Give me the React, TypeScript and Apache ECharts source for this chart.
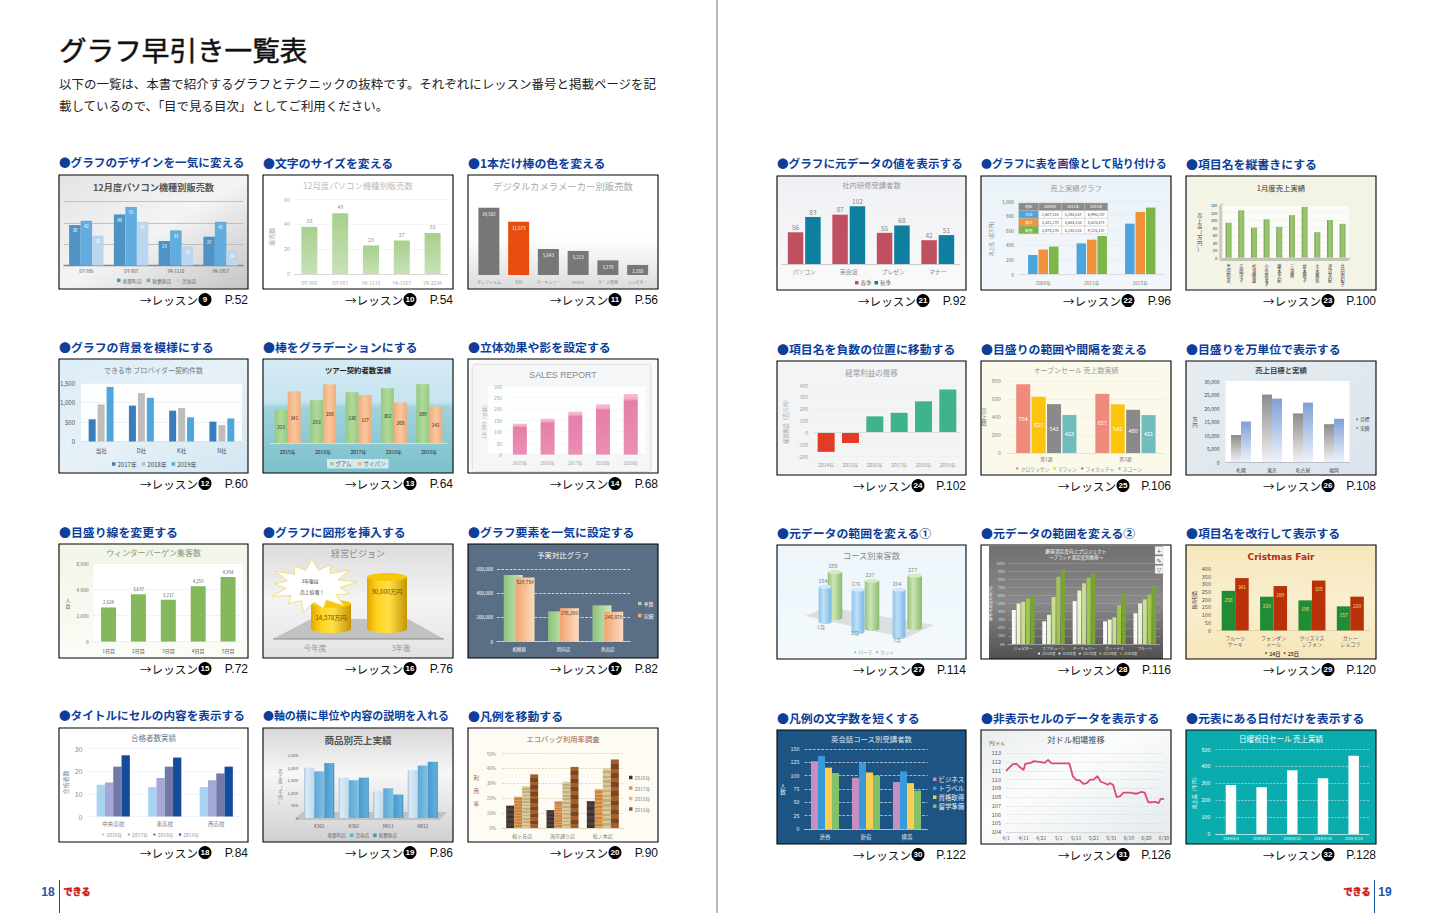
import React, { useEffect, useRef } from "react";
import * as echarts from "echarts";

const JP = '"Noto Sans CJK JP"';
const AR = '"Liberation Sans"';

/* ---------- page texts ---------- */
const pageTitle = "グラフ早引き一覧表";
const introLines = [
  "以下の一覧は、本書で紹介するグラフとテクニックの抜粋です。それぞれにレッスン番号と掲載ページを記",
  "載しているので、「目で見る目次」としてご利用ください。",
];
const headings = [
  "グラフのデザインを一気に変える", "文字のサイズを変える", "1本だけ棒の色を変える",
  "グラフの背景を模様にする", "棒をグラデーションにする", "立体効果や影を設定する",
  "目盛り線を変更する", "グラフに図形を挿入する", "グラフ要素を一気に設定する",
  "タイトルにセルの内容を表示する", "軸の横に単位や内容の説明を入れる", "凡例を移動する",
  "グラフに元データの値を表示する", "グラフに表を画像として貼り付ける", "項目名を縦書きにする",
  "項目名を負数の位置に移動する", "目盛りの範囲や間隔を変える", "目盛りを万単位で表示する",
  "元データの範囲を変える①", "元データの範囲を変える②", "項目名を改行して表示する",
  "凡例の文字数を短くする", "非表示セルのデータを表示する", "元表にある日付だけを表示する",
];
const lessonPages = [52, 54, 56, 60, 64, 68, 72, 76, 82, 84, 86, 90, 92, 96, 100, 102, 106, 108, 114, 116, 120, 122, 126, 128];

/* ---------- chart data ---------- */
const pcCats = ["DT-986", "DT-987", "YK-1110", "YK-1957"];
const p09Ena = [38, 48, 23, 27];
const p09Aki = [42, 55, 33, 41];
const p09Shi = [28, 41, 18, 14];

const p10Cats = ["DT-986", "DT-987", "YK-1110", "YK-1957", "YK-2234"];
const p10Sales = [38, 49, 23, 27, 33];

const p11Cats = ["サンフィルム", "当社", "マーキュリー", "VENUS", "サース電機", "ジュピター"];
const p11Sales = [14582, 11573, 5643, 5213, 3178, 2180];

const p12Cats = ["当社", "D社", "K社", "N社"];
const p12Y2017 = [570, 920, 790, 510];
const p12Y2018 = [950, 1240, 860, 420];
const p12Y2019 = [1400, 1120, 620, 590];

const yearCats = ["2015年", "2016年", "2017年", "2018年", "2019年"];
const p13Guam = [221, 283, 336, 362, 389];
const p13Saipan = [341, 388, 317, 268, 241];
const p14Sales = [135, 157, 188, 220, 265];

const p15Cats = ["1日目", "2日目", "3日目", "4日目", "5日目"];
const p15Visitors = [2624, 3637, 3217, 4255, 4954];

const p16Cats = ["今年度", "3年後"];
const p16Sales = [14578, 30000];

const p17Cats = ["相模原", "別府店", "外出店"];
const p17Budget = [550000, 250000, 300000];
const p17Actual = [529754, 276200, 246870];

const p18Cats = ["中央高校", "東高校", "西高校"];
const p18Y2016 = [14, 13, 13];
const p18Y2017 = [15, 17, 16];
const p18Y2018 = [22, 22, 19];
const p18Y2019 = [27, 26, 22];

const p19Cats = ["K301", "K302", "M011", "M012"];
const p19Ena = [2000, 1600, 1050, 1900];
const p19Shi = [1850, 1500, 1180, 2080];
const p19Aki = [2180, 1600, 930, 2230];

const p20Cats = ["桜ヶ丘店", "海岸通り店", "松ノ木店"];
const p20Y2016 = [15, 12, 18];
const p20Y2017 = [21, 18, 26];
const p20Y2018 = [28, 31, 40];
const p20Y2019 = [36, 41, 46];

const p21Cats = ["パソコン", "英会話", "プレゼン", "マナー"];
const p21Spring = [56, 87, 55, 42];
const p21Autumn = [83, 102, 68, 51];

const p22Cats = ["2008年", "2011年", "2015年"];
const p22Shibuya = [260, 420, 690];
const p22Yokohama = [335, 470, 850];
const p22Shinjuku = [375, 520, 910];
const p22Table = [
  ["地区", "2008年", "2011年", "2015年"],
  ["渋谷", "2,607,318", "4,285,147", "6,996,247"],
  ["横浜", "3,341,278", "4,685,134", "8,626,471"],
  ["新宿", "3,874,176", "5,240,126", "9,226,147"],
];

const p23Cats = ["真田和美", "吉岡洋子", "杉浦敏雄", "小笠原孝子", "藤本幸紀", "三浦敦", "倉本勝子", "大木雅和", "渡辺美紀", "井田由紀子"];
const p23Sales = [93, 126, 80, 102, 82, 113, 135, 68, 100, 90];

const p24Cats = ["2014年", "2015年", "2016年", "2017年", "2018年", "2019年"];
const p24Profit = [-165, -90, 135, 165, 262, 362];

const p25Cats = ["第1週", "第2週"];
const p25Croissant = [764, 657];
const p25Muffin = [625, 541];
const p25Focaccia = [543, 480];
const p25Scone = [423, 421];

const p26Cats = ["札幌", "東京", "名古屋", "福岡"];
const p26Target = [10000, 25000, 18000, 14000];
const p26Actual = [15000, 23500, 22000, 16000];

const p27Cats = ["1月", "2月", "3月"];
const p27Perm = [184, 176, 204];
const p27Cut = [288, 237, 277];

const p28Cats = ["ジュピター", "ネプチューン", "マーキュリー", "ヴィーナス", "プルート"];
const p28Y2015 = [42, 28, 53, 28, 38];
const p28Y2016 = [50, 36, 66, 30, 50];
const p28Y2017 = [52, 58, 75, 33, 55];
const p28Y2018 = [56, 83, 82, 48, 61];
const p28Y2019 = [60, 92, 87, 62, 72];

const p29Cats = ["フルーツ\nケーキ", "フォンダン\nメール", "クリスマス\nシフォン", "ガトー\nショコラ"];
const p29Day24 = [258, 220, 196, 157];
const p29Day25 = [341, 289, 325, 220];

const p30Cats = ["渋谷", "新宿", "横浜"];
const p30Business = [127, 96, 88];
const p30Travel = [137, 124, 108];
const p30License = [115, 106, 86];
const p30Study = [105, 100, 72];

const fxTickLabels = ["4/1", "4/11", "4/21", "5/1", "5/11", "5/21", "5/31", "6/10", "6/20", "6/30"];
const fxDays = [0, 2, 4, 6, 8, 10, 11, 14, 16, 18, 20, 22, 24, 26, 30, 34, 36, 37, 38, 40, 42, 44, 46, 48, 50, 52, 54, 56, 58, 59, 61, 63, 65, 67, 69, 71, 73, 75, 77, 79, 81, 83, 85, 87, 88, 90];
const fxRates = [111.0, 111.4, 111.75, 111.8, 111.4, 111.1, 111.8, 111.9, 112.1, 112.05, 112.0, 111.9, 112.25, 111.85, 111.85, 111.85, 111.85, 111.2, 110.4, 109.95, 109.9, 109.5, 109.6, 110.0, 110.0, 110.4, 109.75, 109.6, 109.4, 109.6, 109.4, 108.0, 108.1, 108.5, 108.5, 108.5, 108.4, 108.4, 108.6, 108.5, 107.4, 107.4, 107.45, 107.3, 107.75, 107.8];

const p32Cats = ["2019/8/4", "2019/8/11", "2019/8/12", "2019/8/18", "2019/8/25"];
const p32Sales = [290, 277, 377, 330, 463];

/* ---------- layout ---------- */
const COLS = [59, 263, 468, 777, 981, 1186];
const ROWS_L = [175, 359, 544, 728];
const ROWS_R = [176, 361, 545, 730];
const boxOf = (n: number) => {
  const page = n < 12 ? 0 : 1;
  const i = page ? n - 12 : n;
  const c = i % 3, r = Math.floor(i / 3);
  return { x: COLS[page * 3 + c], y: (page ? ROWS_R : ROWS_L)[r], w: c === 0 ? 189 : 190, h: 114 };
};

const grids: any[] = [], xAxes: any[] = [], yAxes: any[] = [], series: any[] = [], legends: any[] = [], gfx: any[] = [];

const LG = (x0: number, y0: number, x1: number, y1: number, c: any[]) =>
  new echarts.graphic.LinearGradient(x0, y0, x1, y1, c.map((s: any) => ({ offset: s[0], color: s[1] })));
const V = (...c: any[]) => LG(0, 0, 0, 1, c);
const H = (...c: any[]) => LG(0, 0, 1, 0, c);

const txt = (x: number, y: number, text: string, o: any = {}) => {
  const { z = 10, rotation, ...st } = o;
  gfx.push({
    type: "text", x, y, z, rotation, silent: true,
    style: { text, fontFamily: JP, fontSize: 8, fill: "#333", align: "center", verticalAlign: "middle", ...st },
  });
};
const rect = (x: number, y: number, w: number, h: number, fill: any, o: any = {}) => {
  const { z = -2, ...st } = o;
  gfx.push({ type: "rect", z, silent: true, shape: { x, y, width: w, height: h }, style: { fill, ...st } });
};
const poly = (pts: number[][], fill: any, o: any = {}) => {
  const { z = -1, ...st } = o;
  gfx.push({ type: "polygon", z, silent: true, shape: { points: pts }, style: { fill, ...st } });
};

function mkLegend(items: [string, string][], left: number, top: number, o: any = {}) {
  const { size = 5, color = "#666", orient = "horizontal", gap = 4, icon = "rect", mark = 3.5, bg, weight } = o;
  legends.push({
    data: items.map(([name, c]) => ({ name, icon, itemStyle: { color: c, borderWidth: 0 } })),
    left, top, orient, itemGap: gap, itemWidth: mark, itemHeight: mark, padding: bg ? [2, 3] : 0,
    backgroundColor: bg || "transparent", selectedMode: false,
    textStyle: { fontSize: size, color, fontFamily: JP, fontWeight: weight || "normal", padding: [0, 0, 0, -3] },
  });
}

function panel(n: number, bg: any, title: string, tY: number, tSize: number, tColor: string, o: any = {}) {
  const b = boxOf(n);
  rect(b.x, b.y, b.w, b.h, bg, { z: -3 });
  rect(b.x, b.y, b.w, b.h, "none", { z: 9, stroke: "#000", lineWidth: 1.1 });
  if (title) txt(b.x + b.w / 2 + (o.tdx || 0), tY, title, { fontSize: tSize, fill: tColor, fontWeight: o.tWeight || "normal", fontFamily: o.tFont || JP, fontStyle: o.tStyle || "normal" });
}

type S = { name: string; data: number[]; color: any; lc?: string };
function bars(cfg: {
  plot: number[]; cats: string[]; ss: S[]; y: number[];
  bw: number; gap?: string; lab?: any; xs?: any; ys?: any; grid?: any; plotBg?: any; yName?: any; stack?: boolean; colorFn?: any; x?: any;
}) {
  const [l, t, r, b] = cfg.plot;
  const gi = grids.length;
  grids.push({ left: l, top: t, width: r - l, height: b - t, show: !!cfg.plotBg, backgroundColor: cfg.plotBg || "transparent", borderWidth: 0 });
  const xs = { size: 5, color: "#666", margin: 5, ...cfg.xs };
  xAxes.push({
    type: "category", gridIndex: gi, data: cfg.cats, axisTick: { show: false },
    axisLine: { show: xs.line !== false, lineStyle: { color: xs.lineColor || "#ccc", width: xs.lineWidth || 0.7 }, onZero: xs.onZero !== false },
    axisLabel: { show: xs.show !== false, interval: 0, fontSize: xs.size, color: xs.color, margin: xs.margin, fontFamily: JP, lineHeight: xs.lh, formatter: xs.fmt, hideOverlap: false },
    ...cfg.x,
  });
  const ys = { size: 5, color: "#777", margin: 4, grid: "#e5e5e5", gridType: "solid", gridWidth: 0.6, ...cfg.ys };
  const nm = cfg.yName;
  yAxes.push({
    type: "value", gridIndex: gi, min: cfg.y[0], max: cfg.y[1], interval: cfg.y[2],
    axisLine: { show: false }, axisTick: { show: false },
    axisLabel: { show: ys.show !== false, fontSize: ys.size, color: ys.color, margin: ys.margin, fontFamily: JP, formatter: ys.fmt, showMinLabel: true, showMaxLabel: true },
    splitLine: { show: ys.grid !== "none", lineStyle: { color: ys.grid, type: ys.gridType, width: ys.gridWidth } },
    ...(nm ? {
      name: nm.stack ? nm.text.split("").join("\n") : nm.text,
      nameLocation: "middle", nameGap: nm.gap, nameRotate: nm.stack ? 0 : 90,
      nameTextStyle: { fontSize: nm.size || 5.5, color: nm.color || "#777", fontFamily: JP, lineHeight: nm.lh || (nm.size || 5.5) + 0.6 },
    } : {}),
  });
  cfg.ss.forEach((s) => {
    const lab = cfg.lab;
    series.push({
      type: "bar", name: s.name, xAxisIndex: gi, yAxisIndex: gi, data: s.data, barWidth: cfg.bw, barGap: cfg.gap ?? "0%",
      itemStyle: { color: cfg.colorFn || s.color }, silent: true,
      label: lab ? {
        show: true, position: lab.pos || "top", fontSize: lab.size || 5, color: s.lc || lab.color || "#666", distance: lab.dist ?? 2, fontFamily: JP,
        formatter: (p: any) => (lab.comma ? Number(p.value).toLocaleString("en-US") : String(p.value)),
      } : { show: false },
    });
  });
  return gi;
}

/* custom cylinders, drawn through the grid's own scale; k is a perspective factor on the scaled height */
function cylinders(gi: number, name: string, data: number[], o: { dx: number[]; dy: number[]; k?: number[]; r: number; ry: number; fill: any; top: string; label?: any }) {
  series.push({
    type: "custom", name, xAxisIndex: gi, yAxisIndex: gi, silent: true, z: o.label?.z ?? 3,
    data: data.map((v, i) => [i, v]), encode: { x: 0, y: 1 },
    renderItem: (_p: any, api: any) => {
      const i = api.value(0), v = api.value(1);
      const b = api.coord([i, 0]), t = api.coord([i, v]);
      const cx = b[0] + o.dx[i], by = b[1] + o.dy[i], ty = by + (t[1] - b[1]) * (o.k ? o.k[i] : 1);
      const kids: any[] = [
        { type: "ellipse", shape: { cx, cy: by, rx: o.r, ry: o.ry }, style: { fill: o.fill } },
        { type: "rect", shape: { x: cx - o.r, y: ty, width: o.r * 2, height: by - ty }, style: { fill: o.fill } },
        { type: "ellipse", shape: { cx, cy: ty, rx: o.r, ry: o.ry }, style: { fill: o.top } },
      ];
      if (o.label) kids.push({
        type: "text", x: cx + (o.label.dx || 0), y: o.label.inside ? ty + o.label.inside : ty - o.ry - 4,
        style: { text: o.label.fmt ? o.label.fmt(v) : String(v), fontSize: o.label.size, fill: o.label.color, fontFamily: JP, align: "center", verticalAlign: "middle" },
      });
      return { type: "group", children: kids };
    },
  });
}

const stripes = (a: string, b: string, n: number) => {
  const c: any[] = [];
  for (let i = 0; i < n; i++) {
    c.push([i / n, i % 2 ? b : a], [(i + 1) / n, i % 2 ? b : a]);
  }
  return V(...c);
};
const comma = (v: number) => v.toLocaleString("en-US");

/* ---------- build panels ---------- */
function build() {
  // 9
  panel(0, LG(0, 0, 1, 1, [[0, "#e4e4e4"], [0.5, "#f4f4f4"], [1, "#c4c4c4"]]), "12月度パソコン機種別販売数", 187, 9.2, "#555", { tWeight: "bold" });
  bars({ plot: [64, 201.6, 243, 265.5], cats: pcCats, y: [0, 60, 20], bw: 11.5, lab: { pos: "insideTop", color: "#fff", size: 4.5, dist: 3 },
    ss: [{ name: "恵那町店", data: p09Ena, color: "#4f93c4" }, { name: "秋葉原店", data: p09Aki, color: "#62acdf" }, { name: "渋谷店", data: p09Shi, color: "#bcd7ed" }],
    ys: { show: false, grid: "#b5b5b5", gridWidth: 0.8 }, xs: { size: 4.5, color: "#555", lineColor: "#7a8a98", lineWidth: 1.4, margin: 3 } });
  mkLegend([["恵那町店", "#4f93c4"], ["秋葉原店", "#62acdf"], ["渋谷店", "#bcd7ed"]], 117, 278, { size: 4.8, gap: 5 });

  // 10
  panel(1, "#fff", "12月度パソコン機種別販売数", 185, 8.4, "#bbb");
  bars({ plot: [294, 199.6, 448, 274], cats: p10Cats, y: [0, 60, 20], bw: 16, lab: { color: "#999", size: 5.5, dist: 3 },
    ss: [{ name: "販売数", data: p10Sales, color: V([0, "#a7cf8d"], [1, "#c8e1b6"]) }],
    ys: { size: 5.5, color: "#aaa", grid: "#eee", margin: 4 }, xs: { size: 5, color: "#aaa", margin: 6 }, yName: { text: "販売数", gap: 19, color: "#aaa", size: 6 } });

  // 11
  panel(2, V([0, "#fff"], [0.55, "#fff"], [1, "#dcdcdc"]), "デジタルカメラメーカー別販売数", 186, 9.4, "#aaa");
  bars({ plot: [474, 192, 652.5, 275], cats: p11Cats, y: [0, 18000, 6000], bw: 21, lab: { pos: "insideTop", color: "#fff", size: 4.4, comma: true, dist: 4 },
    ss: [{ name: "販売数2", data: p11Sales, color: "#777" }], colorFn: (p: any) => (p.name === "当社" ? "#e84c0e" : "#777"),
    ys: { show: false, grid: "none" }, xs: { size: 4, color: "#888", line: false, margin: 5 } });

  // 12
  panel(3, LG(0, 0, 1, 1, [[0, "#dcedf7"], [0.5, "#e7f1f7"], [1, "#d3e6f3"]]), "できる市 プロバイダー契約件数", 370, 7, "#777");
  bars({ plot: [81, 383, 242, 441.5], cats: p12Cats, y: [0, 1500, 500], bw: 7, gap: "28%", plotBg: "#fdfeff",
    ss: [{ name: "2017年", data: p12Y2017, color: "#3a7dbd" }, { name: "2018年", data: p12Y2018, color: "#bdbdbd" }, { name: "2019年", data: p12Y2019, color: "#4da6dc" }],
    ys: { size: 6, color: "#555", grid: "#e5e5e5", margin: 6 }, xs: { size: 5.5, color: "#555", margin: 7, lineColor: "#ddd" } });
  mkLegend([["2017年", "#3a7dbd"], ["2018年", "#bdbdbd"], ["2019年", "#4da6dc"]], 112, 461, { size: 6, gap: 5, color: "#444" });

  // 13
  panel(4, V([0, "#d7ebf5"], [0.38, "#c4e4ef"], [0.42, "#a0d3dc"], [1, "#7bc0cb"]), "ツアー契約者数実績", 369.5, 7.4, "#222", { tWeight: "bold" });
  bars({ plot: [270, 384, 447, 443], cats: yearCats, y: [0, 390, 130], bw: 13, lab: { pos: "inside", color: "#222", size: 4.8 },
    ss: [{ name: "グアム", data: p13Guam, color: H([0, "#96c883"], [0.5, "#b1d999"], [1, "#96c883"]) }, { name: "サイパン", data: p13Saipan, color: H([0, "#f4ab79"], [0.5, "#f8c79f"], [1, "#f4ab79"]) }],
    ys: { show: false, grid: "none" }, xs: { size: 5, color: "#222", margin: 6, lineColor: "#d8eef2" } });
  mkLegend([["グアム", "#a2cf8a"], ["サイパン", "#f4b183"]], 327, 459, { size: 5.5, gap: 6, bg: "rgba(255,255,255,0.65)", color: "#666" });

  // 14
  panel(5, "#fbfbfb", "SALES REPORT", 374.5, 8.8, "#888", { tFont: AR });
  rect(473, 365, 177, 106, "#f4f6f7", { z: -2, shadowBlur: 3, shadowColor: "rgba(0,0,0,0.25)" });
  rect(488, 386, 158, 68, "#fdfefe", { z: -1 });
  bars({ plot: [506, 386, 644.6, 454.6], cats: yearCats, y: [0, 300, 50], bw: 14,
    ss: [{ name: "販売数3", data: p14Sales, color: V([0, "#f5bcd2"], [0.07, "#f3b0ca"], [0.12, "#e67fa8"], [1, "#ea8fb3"]) }],
    ys: { size: 4.8, color: "#999", grid: "#f2f2f2" }, xs: { size: 4.5, color: "#999", margin: 6, line: false }, yName: { text: "CB-090（台数）", gap: 20, size: 5, color: "#aaa" } });

  // 15
  panel(6, V([0, "#f1f6e8"], [1, "#fbfcf6"]), "ウィンターバーゲン集客数", 552, 7.9, "#8a9378");
  bars({ plot: [93.6, 563.5, 243, 641.6], cats: p15Cats, y: [0, 6000, 2000], bw: 15, plotBg: "#fff", lab: { color: "#555", size: 4.4, comma: true, dist: 3 },
    ss: [{ name: "集客数", data: p15Visitors, color: "#84b85c" }],
    ys: { size: 4.8, color: "#666", grid: "#d8e5c8", gridType: "dashed", margin: 5 }, xs: { size: 5, color: "#555", margin: 6, line: false }, yName: { text: "人数", stack: true, gap: 23, size: 5 } });

  // 16
  panel(7, LG(0.5, 0, 0.5, 1, [[0, "#dcdcdc"], [0.5, "#f4f4f4"], [1, "#e2e2e2"]]), "経営ビジョン", 553, 9, "#888");
  poly([[311, 619], [408, 619], [444, 639], [273, 639]], "#c2c2c2");
  gfx.push({ type: "line", z: -1, silent: true, shape: { x1: 273, y1: 639, x2: 444, y2: 639 }, style: { stroke: "#777", lineWidth: 0.8 } });
  const g16 = bars({ plot: [272, 577, 444, 629], cats: p16Cats, y: [0, 30000, 10000], bw: 1, ss: [],
    ys: { show: false, grid: "none" }, xs: { size: 7.5, color: "#999", margin: 15, line: false } });
  cylinders(g16, "売上", p16Sales, {
    dx: [16, -14], dy: [0, 0], r: 20, ry: 4,
    fill: H([0, "#e2a800"], [0.25, "#ffd21f"], [0.55, "#ffe04a"], [1, "#c79400"]), top: "#f7c70a",
    label: { inside: 14, size: 6.2, color: "#6a4a00", fmt: (v: number) => `${comma(v)}万円` },
  });
  const star: number[][] = [];
  const spikes = 13;
  for (let i = 0; i < spikes * 2; i++) {
    const a = (Math.PI * i) / spikes - 0.15, k = i % 2 ? 0.6 : i % 4 === 0 ? 1 : 0.86;
    star.push([313 + 45 * k * Math.cos(a), 586 + 27 * k * Math.sin(a)]);
  }
  poly(star, "#fff", { z: 5, stroke: "#f5dd77", lineWidth: 1 });
  txt(310, 580, "3年後は", { fontSize: 4.8, fill: "#333" });
  txt(312, 591, "売上倍増！", { fontSize: 4.8, fill: "#333" });

  // 17
  panel(8, "#5a6e85", "予実対比グラフ", 554, 7.4, "#fff");
  bars({ plot: [497, 569, 630, 641.6], cats: p17Cats, y: [0, 600000, 200000], bw: 19, gap: "-38%",
    ss: [{ name: "予算", data: p17Budget, color: H([0, "#8cc27a"], [1, "#d0e8c0"]) }, { name: "実績", data: p17Actual, color: H([0, "#f2a56e"], [1, "#fbdcc2"]) }],
    ys: { size: 4.6, color: "#fff", grid: "#fff", gridType: "dashed", gridWidth: 0.7, margin: 4 }, xs: { size: 4.5, color: "#fff", margin: 5, lineColor: "#cfd8e2" } });
  series[series.length - 1].label = { show: true, position: "insideTop", fontSize: 4.8, color: "#333", distance: 2, fontFamily: JP, formatter: (p: any) => comma(p.value) };
  mkLegend([["予算", "#a8d896"], ["実績", "#f4b183"]], 638, 601, { size: 5, orient: "vertical", gap: 7, color: "#fff" });

  // 18
  panel(9, "#fff", "合格者数実績", 737.5, 7.5, "#6b7a8a");
  bars({ plot: [87.5, 748.5, 242, 816.5], cats: p18Cats, y: [0, 30, 10], bw: 8.3,
    ss: [{ name: "2016年", data: p18Y2016, color: "#a8d3f0" }, { name: "2017年", data: p18Y2017, color: "#a3a9d6" }, { name: "2018年", data: p18Y2018, color: "#7378a8" }, { name: "2019年", data: p18Y2019, color: "#154b9c" }],
    ys: { size: 7, color: "#889", grid: "#e7eef5", margin: 5 }, xs: { size: 5.5, color: "#778", margin: 5, line: false }, yName: { text: "合格者数", gap: 19, size: 6, color: "#7a8a9a" } });
  mkLegend([["2016年", "#a8d3f0"], ["2017年", "#a3a9d6"], ["2018年", "#7378a8"], ["2019年", "#154b9c"]], 102, 832, { size: 5, gap: 5, icon: "circle", mark: 2.5, color: "#999" });

  // 19
  panel(10, LG(0.5, 0, 0.5, 1, [[0, "#d8d8d8"], [0.4, "#f7f7f7"], [1, "#cfcfcf"]]), "商品別売上実績", 740, 9.6, "#555", { tWeight: "bold" });
  poly([[302, 812], [447, 812], [440, 820], [295, 820]], "#bfc3c6");
  bars({ plot: [302, 755, 440, 818], cats: p19Cats, y: [0, 2500, 500], bw: 10,
    ss: [{ name: "恵那町店", data: p19Ena, color: H([0, "#9ec0da"], [0.2, "#dcebf6"], [1, "#bed9ee"]) }, { name: "渋谷店", data: p19Shi, color: H([0, "#5fa7d4"], [1, "#7fc0e6"]) }, { name: "秋葉原店", data: p19Aki, color: H([0, "#4a98c9"], [0.85, "#5fb0e0"], [1, "#3e7da8"]) }],
    ys: { size: 4.2, color: "#555", grid: "none", margin: 4 }, xs: { size: 4.5, color: "#555", margin: 6, line: false }, yName: { text: "売上高（千円）", stack: true, gap: 15, size: 4.6 } });
  mkLegend([["恵那町店", "#c5def0"], ["渋谷店", "#62acdc"], ["秋葉原店", "#4694c6"]], 322, 833, { size: 4.6, gap: 4 });

  // 20
  panel(11, "#fdfbf3", "エコバッグ利用率調査", 739, 7.3, "#a5603c");
  bars({ plot: [502, 753.5, 623, 828], cats: p20Cats, y: [0, 50, 10], bw: 8,
    ss: [{ name: "2016年", data: p20Y2016, color: stripes("#3f332d", "#50423a", 9) }, { name: "2017年", data: p20Y2017, color: stripes("#e09b57", "#c98445", 21) }, { name: "2018年", data: p20Y2018, color: stripes("#dcc998", "#c0ae7c", 25) }, { name: "2019年", data: p20Y2019, color: stripes("#a3602c", "#7a4622", 15) }],
    ys: { size: 4.6, color: "#888", grid: "#d6c79a", gridType: "dashed", margin: 6, fmt: "{value}%" }, xs: { size: 5, color: "#777", margin: 5, lineColor: "#d8d2c0" },
    yName: { text: "利用率", stack: true, gap: 23, size: 5.5, lh: 13, color: "#a05a30" } });
  mkLegend([["2016年", "#3f332d"], ["2017年", "#d99450"], ["2018年", "#d0bd88"], ["2019年", "#96552a"]], 629, 775, { size: 5, orient: "vertical", gap: 5.5, color: "#888" });

  // 21
  panel(12, V([0, "#eef0f3"], [1, "#fafafa"]), "社内研修受講者数", 184.5, 7.3, "#999");
  bars({ plot: [782, 196, 960, 264], cats: p21Cats, y: [0, 120, 40], bw: 15.5, gap: "12%", lab: { color: "#888", size: 6.5, dist: 2 },
    ss: [{ name: "春季", data: p21Spring, color: "#c0505f" }, { name: "秋季", data: p21Autumn, color: "#0f7f9f" }],
    ys: { show: false, grid: "none" }, xs: { size: 5.8, color: "#888", margin: 5, lineColor: "#ccc", lineWidth: 1.2 } });
  mkLegend([["春季", "#c0505f"], ["秋季", "#0f7f9f"]], 855, 280, { size: 5.5, gap: 3, color: "#777" });

  // 22
  panel(13, V([0, "#eaf2f8"], [1, "#f3f7fb"]), "売上実績グラフ", 187.5, 7.4, "#999");
  bars({ plot: [1019, 201, 1164.5, 274], cats: p22Cats, y: [0, 1000, 200], bw: 9.5, gap: "10%",
    ss: [{ name: "渋谷", data: p22Shibuya, color: "#4ca6dc" }, { name: "横浜", data: p22Yokohama, color: "#f0923b" }, { name: "新宿", data: p22Shinjuku, color: "#7ab648" }],
    ys: { size: 4.8, color: "#666", grid: "#e2e8ee", margin: 5 }, xs: { size: 4.8, color: "#777", margin: 6, lineColor: "#d5dde3", lineWidth: 1.2 }, yName: { text: "売上高（百万円）", gap: 25, size: 4.6 } });
  const tw = [20, 23, 23, 23], rowFill = ["#8a8a8a", "#4ca6dc", "#f0923b", "#7ab648"];
  let ty = 203;
  p22Table.forEach((row, r) => {
    let tx = 1018.7;
    row.forEach((cell, c) => {
      const fill = r === 0 ? "#8a8a8a" : c === 0 ? rowFill[r] : "#fff";
      rect(tx, ty, tw[c], 7.7, fill, { z: 5, stroke: "#bbb", lineWidth: 0.4 });
      txt(tx + tw[c] / 2, ty + 3.9, cell, { fontSize: 3.8, fill: r === 0 || c === 0 ? "#fff" : "#444" });
      tx += tw[c];
    });
    ty += 7.7;
  });

  // 23
  panel(14, "#f3f4e6", "1月度売上実績", 187, 7.4, "#333");
  poly([[1219, 205], [1223, 203], [1223, 258], [1219, 261]], "#cfd0c6");
  poly([[1219, 261], [1223, 258], [1351, 258], [1348, 261]], "#c4c5ba");
  bars({ plot: [1222.3, 205, 1349, 257.7], cats: p23Cats, y: [0, 140, 20], bw: 6, plotBg: "#fbfbf7",
    ss: [{ name: "売上", data: p23Sales, color: H([0, "#6e9c4c"], [0.35, "#9cc775"], [1, "#8cba62"]) }],
    ys: { size: 4, color: "#333", grid: "#eceee0", margin: 5 },
    xs: { size: 4.2, color: "#333", margin: 6, line: false, lh: 4.6, fmt: (c: string) => c.split("").join("\n") }, yName: { text: "売上高（万円）", stack: true, gap: 20, size: 5, color: "#333" } });

  // 24
  panel(15, "#f3f4f5", "経常利益の推移", 372, 7.5, "#999");
  bars({ plot: [814, 385, 960, 456], cats: p24Cats, y: [-200, 400, 100], bw: 17,
    ss: [{ name: "経常利益", data: p24Profit, color: "#3fb38a" }], colorFn: (p: any) => (p.value < 0 ? "#e23c27" : "#3fb38a"),
    ys: { size: 5, color: "#999", grid: "#ebebeb", margin: 6 }, xs: { size: 5, color: "#999", margin: 6, line: false, onZero: false }, yName: { text: "経常利益（百万円）", gap: 26, size: 5.2, color: "#999" } });
  series[series.length - 1].markLine = { silent: true, symbol: "none", label: { show: false }, lineStyle: { color: "#ddd", width: 1, type: "solid" }, data: [{ yAxis: 0 }] };

  // 25
  panel(16, "#fbf9ea", "オープンセール 売上数実績", 369.5, 7, "#999");
  bars({ plot: [1006.8, 381, 1165, 453], cats: p25Cats, y: [0, 800, 200], bw: 14, gap: "10%", lab: { pos: "inside", color: "#fff", size: 5.6 },
    ss: [{ name: "クロワッサン", data: p25Croissant, color: "#f08a7c" }, { name: "マフィン", data: p25Muffin, color: "#fcc30f" }, { name: "フォカッチャ", data: p25Focaccia, color: "#8a8a8a" }, { name: "スコーン", data: p25Scone, color: "#71bdbd" }],
    ys: { size: 5.5, color: "#888", grid: "#efecd6", margin: 6 }, xs: { size: 4.8, color: "#777", margin: 3, lineColor: "#ddd" }, yName: { text: "売上数", stack: true, gap: 20, size: 5.5 } });
  mkLegend([["クロワッサン", "#f08a7c"], ["マフィン", "#fcc30f"], ["フォカッチャ", "#8a8a8a"], ["スコーン", "#71bdbd"]], 1016, 466, { size: 4.8, gap: 4, mark: 2.5, icon: "circle", color: "#888" });

  // 26
  panel(17, LG(0, 0, 1, 1, [[0, "#e6edf2"], [1, "#dbe4ec"]]), "売上目標と実績", 369, 7.4, "#444", { tWeight: "bold" });
  bars({ plot: [1225.5, 381, 1349.5, 462], cats: p26Cats, y: [0, 30000, 5000], bw: 10, plotBg: "#fff",
    ss: [{ name: "目標", data: p26Target, color: V([0, "#8c8c8c"], [1, "#f2f2f2"]) }, { name: "実績", data: p26Actual, color: V([0, "#7f9fd8"], [1, "#eef3fb"]) }],
    ys: { size: 5, color: "#444", grid: "none", margin: 6 }, xs: { size: 4.8, color: "#444", margin: 5, lineColor: "#aab" }, yName: { text: "万円", stack: true, gap: 28, size: 5, color: "#444" } });
  mkLegend([["目標", "#8c8c8c"], ["実績", "#7f9fd8"]], 1356, 417, { size: 4.6, orient: "vertical", gap: 4, icon: "circle", mark: 2.2, color: "#444" });

  // 27
  panel(18, V([0, "#eef6fb"], [1, "#f3f9fd"]), "コース別来客数", 555, 8.2, "#888");
  poly([[805, 616], [827, 607], [934, 625], [906, 638]], "#dcdfe0");
  const g27 = bars({ plot: [800, 570, 930, 618], cats: p27Cats, y: [0, 300, 100], bw: 1, ss: [], ys: { show: false, grid: "none" }, xs: { show: false, line: false } });
  cylinders(g27, "カット", p27Cut, { dx: [13.3, 7, 6.3], dy: [0, 11, 10], k: [1, 1.27, 1.18], r: 7.3, ry: 2, fill: H([0, "#96c278"], [0.4, "#cbe6b6"], [1, "#8db86e"]), top: "#d5ecc3", label: { size: 5.5, color: "#888", dx: -2 } });
  cylinders(g27, "パーマ", p27Perm, { dx: [3.3, -7, -9.3], dy: [4, 14, 19], k: [1.2, 1.5, 1.45], r: 6.4, ry: 2, fill: H([0, "#8cc4ea"], [0.4, "#bde0f8"], [1, "#7cb8e2"]), top: "#d0e9fa", label: { size: 5.5, color: "#888", dx: -2, z: 4 } });
  txt(821, 626, p27Cats[0], { fontSize: 5, fill: "#888" });
  txt(855, 632, p27Cats[1], { fontSize: 5, fill: "#888" });
  txt(897, 639, p27Cats[2], { fontSize: 5, fill: "#888" });
  mkLegend([["パーマ", "#8cc4ea"], ["カット", "#96c278"]], 854, 650, { size: 4.6, gap: 4, icon: "circle", mark: 2.2, color: "#999" });

  // 28
  panel(19, "#fff", "顧客満足度向上プロジェクト", 551, 4.7, "#fff", { tdx: 0 });
  rect(989, 546, 174, 113, V([0, "#707070"], [0.5, "#8a8a8a"], [1, "#505050"]), { z: -2 });
  txt(1076, 556.5, "～ブランド満足度別推移～", { fontSize: 4.5, fill: "#fff" });
  bars({ plot: [1008, 563, 1160, 644], cats: p28Cats, y: [0, 100, 10], bw: 3.9, gap: "20%",
    ss: [{ name: "2015年度", data: p28Y2015, color: "#fafafa" }, { name: "2016年度", data: p28Y2016, color: "#ecf3cc" }, { name: "2017年度", data: p28Y2017, color: "#c8de90" }, { name: "2018年度", data: p28Y2018, color: "#9fc84a" }, { name: "2019年度", data: p28Y2019, color: "#78a62a" }],
    ys: { size: 3.4, color: "#ddd", grid: "#a2a2a2", gridWidth: 0.5, margin: 3, fmt: "{value}%" }, xs: { size: 3.8, color: "#e5e5e5", margin: 3, lineColor: "#aaa" },
    yName: { text: "顧客満足度比率(%)", gap: 13, size: 4, color: "#eee" } });
  mkLegend([["2015年度", "#fafafa"], ["2016年度", "#ecf3cc"], ["2017年度", "#c8de90"], ["2018年度", "#9fc84a"], ["2019年度", "#78a62a"]], 1038, 652, { size: 3.2, gap: 3, icon: "circle", mark: 2, color: "#ddd" });
  [["+", 550.5], ["✎", 560], ["▽", 569.5]].forEach(([g, y]) => {
    rect(1155, (y as number) - 4, 8, 8, "#f3f3f3", { z: 6, stroke: "#bbb", lineWidth: 0.4 });
    txt(1159, y as number, g as string, { fontSize: 6, fill: "#555", fontFamily: '"DejaVu Sans"' });
  });

  // 29
  panel(20, V([0, "#f5e7bc"], [0.5, "#f9efce"], [1, "#f6e6bb"]), "Cristmas Fair", 557, 9, "#b5281c", { tFont: '"DejaVu Sans"', tWeight: "bold" });
  bars({ plot: [1216, 569, 1369.5, 630.5], cats: p29Cats, y: [0, 400, 50], bw: 13.5, lab: { pos: "insideTop", color: "#ffe27a", size: 4.8, dist: 6 },
    ss: [{ name: "24日", data: p29Day24, color: "#228b35" }, { name: "25日", data: p29Day25, color: "#b83108" }],
    ys: { size: 5.6, color: "#555", grid: "none", margin: 5 }, xs: { size: 5, color: "#666", margin: 3.5, lh: 6.4, lineColor: "#d8c89a" }, yName: { text: "販売個数", gap: 19, size: 4.6, color: "#444" } });
  mkLegend([["24日", "#228b35"], ["25日", "#b83108"]], 1265, 650.5, { size: 5.2, gap: 3, mark: 2.2, icon: "circle", weight: "bold", color: "#444" });

  // 30
  panel(21, "#1d5484", "英会話コース別受講者数", 738.5, 7.4, "#dde5ee");
  bars({ plot: [804.5, 749, 927.5, 829], cats: p30Cats, y: [0, 150, 25], bw: 7,
    ss: [{ name: "ビジネス", data: p30Business, color: "#c58fc0" }, { name: "トラベル", data: p30Travel, color: "#3a9ad9" }, { name: "資格取得", data: p30License, color: "#f7ce56" }, { name: "留学準備", data: p30Study, color: "#82c06a" }],
    ys: { size: 5.4, color: "#e5edf5", grid: "#dfe8f0", gridType: "dashed", gridWidth: 0.7, margin: 5 }, xs: { size: 5.4, color: "#e5edf5", margin: 5, lineColor: "#bcd" }, yName: { text: "人数", stack: true, gap: 18, size: 5.4, color: "#e5edf5" } });
  mkLegend([["ビジネス", "#c58fc0"], ["トラベル", "#3a9ad9"], ["資格取得", "#f7ce56"], ["留学準備", "#82c06a"]], 933, 776, { size: 6.4, orient: "vertical", gap: 2.6, color: "#e8eff6" });

  // 31
  panel(22, LG(0, 0, 1, 1, [[0, "#e9ecee"], [0.4, "#fbfcfc"], [1, "#e4e9ed"]]), "対ドル相場推移", 739, 8.2, "#444");
  const gi = grids.length;
  grids.push({ left: 1006, top: 753.3, width: 158, height: 78.7, show: false });
  xAxes.push({
    type: "value", gridIndex: gi, min: 0, max: 90, interval: 10, splitLine: { show: false }, axisTick: { show: false },
    axisLine: { show: true, lineStyle: { color: "#ccc", width: 0.6 } },
    axisLabel: { fontSize: 5, color: "#555", margin: 3, fontFamily: JP, showMaxLabel: true, formatter: (v: number) => fxTickLabels[Math.round(v / 10)] },
  });
  yAxes.push({
    type: "value", gridIndex: gi, min: 104, max: 113, interval: 1, axisLine: { show: false }, axisTick: { show: false },
    splitLine: { lineStyle: { color: "#cfd3d6", type: "dashed", width: 0.5 } },
    axisLabel: { fontSize: 5.6, color: "#555", margin: 5, fontFamily: JP },
  });
  series.push({
    type: "line", name: "円/ドル", xAxisIndex: gi, yAxisIndex: gi, data: fxDays.map((d, i) => [d, fxRates[i]]), showSymbol: false, silent: true,
    lineStyle: { color: "#d94a76", width: 1.8 },
  });
  txt(997, 743, "円/ドル", { fontSize: 4.6, fill: "#444" });

  // 32
  panel(23, "#0aacae", "日曜祝日セール 売上実績", 738.5, 7.5, "#fff");
  bars({ plot: [1215.6, 749.5, 1369, 834], cats: p32Cats, y: [0, 500, 100], bw: 10.5,
    ss: [{ name: "売上", data: p32Sales, color: "#fff" }],
    ys: { size: 5.4, color: "#fff", grid: "#bfeaea", gridType: "dashed", gridWidth: 0.6, margin: 5 }, xs: { size: 3.8, color: "#fff", margin: 3, lineColor: "#d5f0f0" }, yName: { text: "売上高（千円）", gap: 19, size: 5, color: "#fff" } });

  /* ---------- page furniture ---------- */
  txt(59, 49, pageTitle, { fontSize: 27.6, fill: "#111", align: "left", stroke: "#111", lineWidth: 0.5 });
  txt(59, 84.4, introLines[0], { fontSize: 12.48, fill: "#222", align: "left" });
  txt(59, 106.4, introLines[1], { fontSize: 12.48, fill: "#222", align: "left" });
  gfx.push({ type: "line", z: 0, silent: true, shape: { x1: 717, y1: 0, x2: 717, y2: 913 }, style: { stroke: "#b8b8b8", lineWidth: 2 } });

  headings.forEach((h, i) => {
    const b = boxOf(i);
    const label = "●" + h;
    txt(b.x, b.y - 12.7, label, { fontSize: Math.min(11.9, 186 / label.length), fill: "#0d3e9a", align: "left", fontWeight: "bold" });
    const lesson = i + 9;
    const p = lessonPages[i];
    const rEdge = b.x + b.w;
    const y = b.y + b.h + 10.6;
    const cx = rEdge - (p >= 100 ? 48 : 43);
    txt(rEdge, y, "P." + p, { fontSize: 12, fill: "#111", align: "right", fontFamily: AR });
    txt(cx - 7, y, "→レッスン", { fontSize: 11.6, fill: "#111", align: "right" });
    gfx.push({ type: "circle", z: 10, silent: true, shape: { cx, cy: y, r: 6.5 }, style: { fill: "#000" } });
    txt(cx, y + 0.3, String(lesson), { fontSize: 8, fill: "#fff", fontWeight: "bold", fontFamily: AR });
  });

  txt(48, 892, "18", { fontSize: 12, fill: "#1d57a8", fontWeight: "bold", fontFamily: AR });
  gfx.push({ type: "line", z: 0, silent: true, shape: { x1: 59.5, y1: 880, x2: 59.5, y2: 913 }, style: { stroke: "#1d57a8", lineWidth: 1 } });
  txt(77, 891, "できる", { fontSize: 9, fill: "#d01818", fontWeight: "bold", stroke: "#d01818", lineWidth: 0.5 });
  txt(1357, 891, "できる", { fontSize: 9, fill: "#d01818", fontWeight: "bold", stroke: "#d01818", lineWidth: 0.5 });
  gfx.push({ type: "line", z: 0, silent: true, shape: { x1: 1374.5, y1: 880, x2: 1374.5, y2: 913 }, style: { stroke: "#1d57a8", lineWidth: 1 } });
  txt(1385, 892, "19", { fontSize: 12, fill: "#1d57a8", fontWeight: "bold", fontFamily: AR });
}

export default function App() {
  const ref = useRef<HTMLDivElement>(null);
  useEffect(() => {
    document.body.style.margin = "0";
    document.body.style.background = "#fff";
    grids.length = xAxes.length = yAxes.length = series.length = legends.length = gfx.length = 0;
    build();
    const chart = echarts.init(ref.current!, undefined, { renderer: "svg" });
    chart.setOption({
      animation: false,
      backgroundColor: "#fff",
      textStyle: { fontFamily: JP },
      tooltip: { show: false },
      grid: grids, xAxis: xAxes, yAxis: yAxes, series, legend: legends,
      graphic: { elements: gfx },
    });
    return () => chart.dispose();
  }, []);
  return <div ref={ref} style={{ position: "absolute", left: 0, top: 0, width: 1434, height: 913 }} />;
}
